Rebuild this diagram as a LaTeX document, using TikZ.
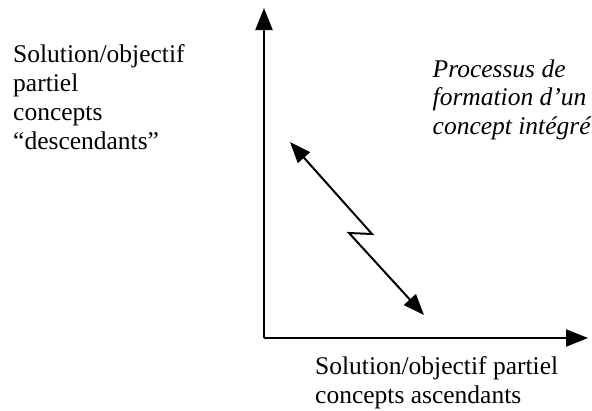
\documentclass[tikz,border=0pt]{standalone}
\usepackage{fontspec}
\setmainfont{Liberation Serif}
\usetikzlibrary{arrows.meta}
\begin{document}
\begin{tikzpicture}[x=1pt,y=-1pt,
  axis/.style={line width=2pt,-{Triangle[length=22pt,width=17pt]}},
  link/.style={line width=2pt,{Triangle[length=21pt,width=16pt]}-{Triangle[length=21pt,width=16pt]},line join=miter},
  label/.style={inner sep=0pt,anchor=base west,align=left,font=\fontsize{25.5}{29}\selectfont}]
  \useasboundingbox (0,0) rectangle (592,410);
  % axes
  \coordinate (O) at (264,338);
  \coordinate (ytop) at (264,8);
  \coordinate (xend) at (588,338);
  \draw[axis] (O) -- (ytop);
  \draw[axis] (O) -- (xend);
  % broken double arrow
  \coordinate (a) at (290,142);
  \coordinate (z1) at (372,234);
  \coordinate (z2) at (349,233);
  \coordinate (b) at (424,315);
  \draw[link] (a) -- (z1) -- (z2) -- (b);
  % labels (anchored on the baseline of the last line)
  \node[label] (ylab) at (13,149) {Solution/objectif\\partiel\\concepts\\“descendants”};
  \node[label,font=\fontsize{25.5}{28.5}\selectfont\itshape] (proc) at (432.5,134) {Processus de\\formation d’un\\concept intégré};
  \node[label] (xlab) at (315,403) {Solution/objectif partiel\\concepts ascendants};
\end{tikzpicture}
\end{document}
